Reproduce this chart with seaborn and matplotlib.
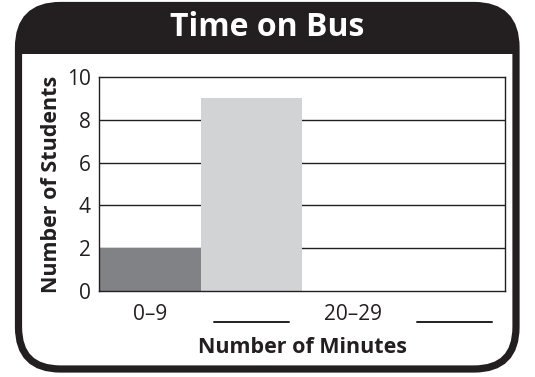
import matplotlib
matplotlib.use("Agg")
import matplotlib.pyplot as plt
from matplotlib.patches import FancyBboxPatch, Rectangle
import matplotlib.transforms as mtransforms
import seaborn as sns
import pandas as pd

# 버스 탑승 시간 데이터
categories = ["0–9", "10–19", "20–29", "30–39"]
tick_labels = ["0–9", "", "20–29", ""]
students = [2, 9, 0, 0]
bar_colors = ["#808285", "#d1d3d4", "#ffffff", "#ffffff"]
blank_slots = [1, 3]  # 빈칸(밑줄)으로 남겨둔 구간

sns.set_theme(style="white")
plt.rcParams['font.family'] = ['Open Sans', 'DejaVu Sans']

df = pd.DataFrame({'minutes': categories, 'students': students})

fig = plt.figure(figsize=(5.35, 3.77), dpi=100)

# 둥근 테두리 + 검은 머리띠
frame = FancyBboxPatch((0.185, 0.08), 5.16 - 0.185, 3.715 - 0.08,
                       boxstyle="round,pad=0,rounding_size=0.42",
                       transform=fig.dpi_scale_trans, facecolor='white',
                       edgecolor='#231f20', linewidth=5.2, zorder=0)
fig.patches.append(frame)
header = Rectangle((0, 3.77 - 0.535), 5.35, 0.6, transform=fig.dpi_scale_trans,
                   facecolor='#231f20', edgecolor='none', zorder=0.5)
fig.patches.append(header)
header.set_clip_path(frame)
fig.text(267.5 / 535, 1 - 28 / 377, "Time on Bus", color='white', fontsize=23,
         fontweight='bold', ha='center', va='center', zorder=3)

ax = fig.add_axes([99 / 535, 1 - 291 / 377, 406 / 535, 214 / 377])
ax.set_zorder(2)
ax.set_facecolor('none')
sns.barplot(data=df, x='minutes', y='students', hue='minutes', palette=bar_colors,
            width=1.0, saturation=1, legend=False, ax=ax, zorder=2, linewidth=0)

ax.set_ylim(0, 10)
ax.set_xlim(-0.5, 3.5)
ax.set_yticks([0, 2, 4, 6, 8, 10])
for y in [2, 4, 6, 8]:
    ax.axhline(y, color='#231f20', lw=1.0, zorder=1)
ax.set_xticks(range(len(categories)))
ax.set_xticklabels(tick_labels)
ax.tick_params(axis='both', length=0, labelsize=15, colors='#231f20')
ax.tick_params(axis='y', pad=6)
ax.tick_params(axis='x', pad=9)
for s in ax.spines.values():
    s.set_visible(True)
    s.set_color('#231f20')
    s.set_linewidth(1.0)

# 빈칸 밑줄
trans = mtransforms.blended_transform_factory(ax.transData, ax.transAxes)
for i in blank_slots:
    ax.plot([i - 0.37, i + 0.37], [-0.145, -0.145], color='#231f20', lw=1.4,
            transform=trans, clip_on=False)

ax.set_xlabel("Number of Minutes", fontsize=15.5, fontweight='bold',
              color='#231f20')
ax.set_ylabel("Number of Students", fontsize=15.5, fontweight='bold',
              color='#231f20')
ax.xaxis.set_label_coords(0.5, -0.262)
ax.yaxis.set_label_coords(-0.116, 0.5)
ax.xaxis.label.set_va('center')
ax.yaxis.label.set_va('center')

fig.savefig('out.png', dpi=100)
